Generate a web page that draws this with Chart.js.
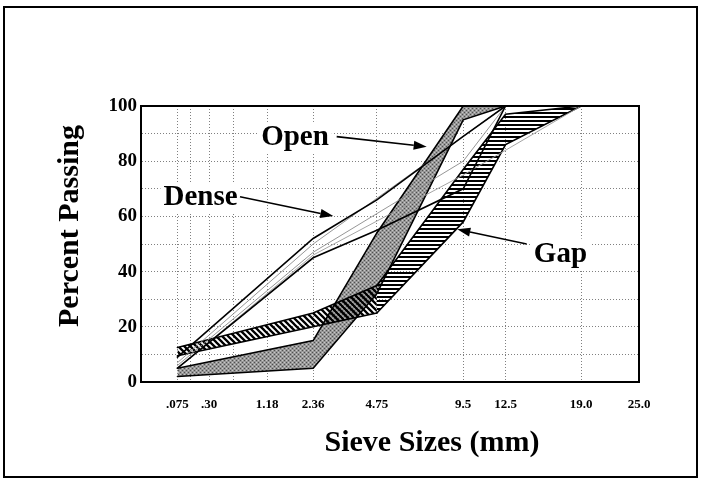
<!DOCTYPE html>
<html><head><meta charset="utf-8">
<script src="https://cdn.jsdelivr.net/npm/chart.js@4/dist/chart.umd.min.js"></script>
<style>html,body{margin:0;padding:0;background:#fff;}canvas{display:block;}</style>
</head><body>
<canvas id="c" width="701" height="480"></canvas>
<script>
// ---- data ----
const sieveSizes  = [0.075, 0.15, 0.30, 0.60, 1.18, 2.36, 4.75, 9.5, 12.5, 19.0, 25.0];
const sieveLabels = ['.075', '', '.30', '', '1.18', '2.36', '4.75', '9.5', '12.5', '19.0', '25.0'];
const percentTickStep = 20;

const openSieves = [0.075, 2.36, 4.75, 9.5, 12.5];
const openUpper  = [5, 15, 54, 100, 100];
const openLower  = [2, 5, 32, 95, 100];

const gapSieves = [0.075, 2.36, 4.75, 9.5, 12.5, 19.0];
const gapUpper  = [12.5, 25, 35, 77, 97, 100];
const gapLower  = [9.5, 20, 25, 58, 86, 100];

const denseSieves = [0.075, 2.36, 4.75, 9.5, 12.5];
const denseUpper  = [9, 52, 66, 89, 100];
const denseLower  = [5, 45, 55, 70, 100];

const denseThinA_S = [0.075, 2.36, 12.5];        const denseThinA = [7, 50, 100];
const denseThinB_S = [0.075, 2.36, 9.5, 12.5];   const denseThinB = [6, 47, 80, 100];
const denseThinC_S = [0.075, 2.36, 9.5, 19.0];   const denseThinC = [5, 46, 75, 100];

// annotation anchors in data units (sieve mm, percent)
const labelNames = ['Open', 'Dense', 'Gap'];
const labelAt    = [[1.841, 85.9], [0.2226, 64.1], [17.07, 43.6]];
const arrowFrom  = [[3.136, 88.9], [0.6899, 67.1], [14.166, 50.0]];
const arrowTo    = [[7.271, 85.25], [3.0168, 60.1], [9.116, 55.3]];

// ---- helpers ----
const POW = 0.45;
const T = v => Math.pow(v, POW);
const pts = (xs, ys) => xs.map((x, i) => ({x: T(x), y: ys[i]}));

function makePattern(w, h, draw) {
  const c = document.createElement('canvas'); c.width = w; c.height = h;
  const g = c.getContext('2d'); draw(g, w, h);
  return document.getElementById('c').getContext('2d').createPattern(c, 'repeat');
}
const grayPat = makePattern(4, 4, g => {
  g.fillStyle = '#979797'; g.fillRect(0, 0, 4, 4);
  g.fillStyle = '#505050'; g.fillRect(0, 0, 1, 1); g.fillRect(2, 2, 1, 1);
  g.fillStyle = '#c8c8c8'; g.fillRect(2, 0, 1, 1); g.fillRect(0, 2, 1, 1);
});
const diagPat = makePattern(6, 6, g => {
  g.strokeStyle = '#000'; g.lineWidth = 2.3;
  g.beginPath();
  g.moveTo(-1, -1); g.lineTo(7, 7);
  g.moveTo(-1, 5); g.lineTo(1, 7);
  g.moveTo(5, -1); g.lineTo(7, 1);
  g.stroke();
});
const horzPat = makePattern(4, 4, g => {
  g.fillStyle = '#000'; g.fillRect(0, 0, 4, 2);
});

// split gap band at 4.75 (diagonal hatch left, horizontal hatch right)
const splitIdx = gapSieves.indexOf(4.75);
const gapL_S = gapSieves.slice(0, splitIdx + 1), gapR_S = gapSieves.slice(splitIdx);

const edge = {borderColor: '#000', borderWidth: 1.6, pointRadius: 0, tension: 0, fill: false};
const datasets = [
  // dense (top)
  {...edge, label: 'DenseU', data: pts(denseSieves, denseUpper), order: 1},
  {...edge, label: 'DenseL', data: pts(denseSieves, denseLower), order: 1},
  {...edge, label: 'ThinA', data: pts(denseThinA_S, denseThinA), borderColor: '#8a8a8a', borderWidth: 0.9, order: 2},
  {...edge, label: 'ThinB', data: pts(denseThinB_S, denseThinB), borderColor: '#8a8a8a', borderWidth: 0.9, order: 2},
  {...edge, label: 'ThinC', data: pts(denseThinC_S, denseThinC), borderColor: '#9a9a9a', borderWidth: 0.9, order: 2},
  // gap
  {...edge, label: 'GapUL', data: pts(gapL_S, gapUpper.slice(0, splitIdx + 1)), order: 3},
  {...edge, label: 'GapLL', data: pts(gapL_S, gapLower.slice(0, splitIdx + 1)), order: 3, fill: {target: 5}, backgroundColor: diagPat},
  {...edge, label: 'GapUR', data: pts(gapR_S, gapUpper.slice(splitIdx)), order: 3},
  {...edge, label: 'GapLR', data: pts(gapR_S, gapLower.slice(splitIdx)), order: 3, fill: {target: 7}, backgroundColor: horzPat},
  // open (bottom)
  {...edge, label: 'OpenU', data: pts(openSieves, openUpper), order: 5},
  {...edge, label: 'OpenL', data: pts(openSieves, openLower), order: 5, fill: {target: 9}, backgroundColor: grayPat},
];

const SERIF = "'Liberation Serif', 'Times New Roman', serif";

const decor = {
  id: 'decor',
  beforeDraw(chart) {
    const ctx = chart.ctx;
    ctx.save(); ctx.fillStyle = '#fff'; ctx.fillRect(0, 0, chart.width, chart.height); ctx.restore();
  },
  afterDatasetsDraw(chart) {
    const ctx = chart.ctx, xs = chart.scales.x, ys = chart.scales.y;
    const P = (d) => [xs.getPixelForValue(T(d[0])), ys.getPixelForValue(d[1])];
    ctx.save();
    ctx.font = 'bold 29px ' + SERIF;
    ctx.textAlign = 'center'; ctx.textBaseline = 'alphabetic';
    labelNames.forEach((name, i) => {
      const [lx, ly] = P(labelAt[i]);
      const w = ctx.measureText(name).width;
      ctx.fillStyle = '#fff';
      ctx.fillRect(lx - w / 2 - 3, ly - 23, w + 6, 31);
      ctx.fillStyle = '#000';
      ctx.fillText(name, lx, ly);
      // arrow
      const [x1, y1] = P(arrowFrom[i]); const [x2, y2] = P(arrowTo[i]);
      const a = Math.atan2(y2 - y1, x2 - x1), L = 13, hw = 4.5;
      const bx = x2 - L * Math.cos(a), by = y2 - L * Math.sin(a);
      ctx.strokeStyle = '#000'; ctx.lineWidth = 1.6;
      ctx.beginPath(); ctx.moveTo(x1, y1); ctx.lineTo(bx, by); ctx.stroke();
      ctx.beginPath();
      ctx.moveTo(x2, y2);
      ctx.lineTo(bx + hw * Math.sin(a), by - hw * Math.cos(a));
      ctx.lineTo(bx - hw * Math.sin(a), by + hw * Math.cos(a));
      ctx.closePath(); ctx.fill();
    });
    ctx.restore();
  },
  afterDraw(chart) {
    const ctx = chart.ctx, ca = chart.chartArea;
    ctx.save();
    ctx.strokeStyle = '#000';
    // plot frame (top/right)
    ctx.lineWidth = 2;
    ctx.beginPath();
    ctx.moveTo(ca.left, ca.top); ctx.lineTo(ca.right, ca.top); ctx.lineTo(ca.right, ca.bottom);
    ctx.stroke();
    // outer frame
    ctx.lineWidth = 2;
    ctx.strokeRect(4, 7, 693, 470);
    // axis titles
    ctx.fillStyle = '#000';
    ctx.font = 'bold 30px ' + SERIF;
    ctx.textAlign = 'center'; ctx.textBaseline = 'alphabetic';
    ctx.fillText('Sieve Sizes (mm)', 432, 451);
    ctx.translate(78, 226); ctx.rotate(-Math.PI / 2);
    ctx.fillText('Percent Passing', 0, 0);
    ctx.restore();
  }
};

new Chart(document.getElementById('c'), {
  type: 'line',
  data: {datasets},
  options: {
    responsive: false, animation: false, devicePixelRatio: 1,
    layout: {padding: {left: 0, top: 106, right: 62, bottom: 0}},
    plugins: {legend: {display: false}, tooltip: {enabled: false}},
    elements: {line: {borderCapStyle: 'round', borderJoinStyle: 'miter'}},
    scales: {
      x: {
        type: 'linear', min: 0, max: T(sieveSizes[sieveSizes.length - 1]),
        afterBuildTicks: s => { s.ticks = sieveSizes.map(v => ({value: T(v)})); },
        afterFit: s => { s.height = 98; },
        ticks: {autoSkip: false, maxRotation: 0, padding: 15, color: '#000',
                font: {family: SERIF, weight: 'bold', size: 13},
                callback: (v, i) => sieveLabels[i]},
        grid: {color: '#808080', lineWidth: 1, drawTicks: false},
        border: {color: '#000', width: 2, dash: [1, 2]}
      },
      y: {
        min: 0, max: 100,
        afterFit: s => { s.width = 141; },
        ticks: {stepSize: 10, padding: 4, color: '#000',
                font: {family: SERIF, weight: 'bold', size: 19},
                callback: v => (v % percentTickStep === 0 ? v : '')},
        grid: {color: '#808080', lineWidth: 1, drawTicks: false},
        border: {color: '#000', width: 2, dash: [1, 2]}
      }
    }
  },
  plugins: [decor]
});
</script>
</body></html>
